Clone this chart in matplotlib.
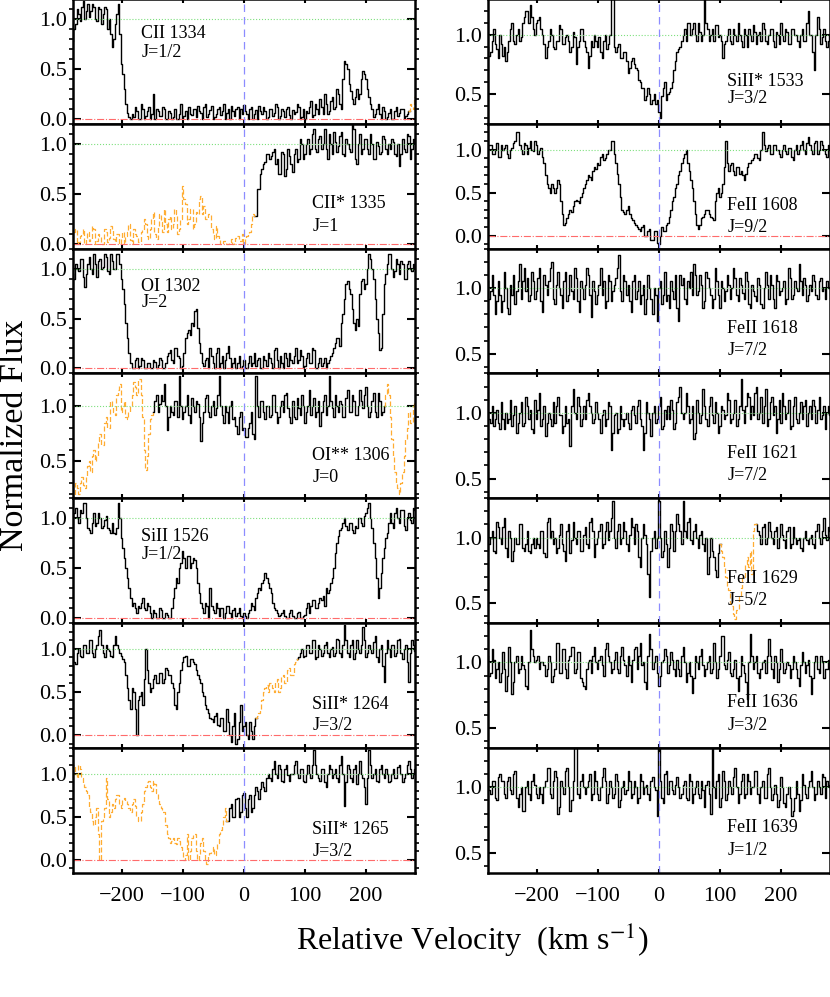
import numpy as np
import matplotlib.pyplot as plt
from matplotlib.ticker import MultipleLocator, FormatStrFormatter

plt.rcParams['font.family'] = ['Liberation Serif', 'DejaVu Serif']
plt.rcParams['mathtext.fontset'] = 'stix'

# normalized flux, one value every 2.5 km/s from -280 to +280 (16 values = 40 km/s per row)
cii_1334 = [0.78, 0.9, 0.95, 1.1, 1.05, 0.98, 1.12, 1.18, 1.0, 1.08, 1.15, 1.02, 1.08, 1.15, 1.12, 1.0,
            0.98, 1.12, 1.1, 0.95, 1.05, 1.12, 1.1, 0.9, 1.0, 0.85, 0.72, 0.8, 0.95, 1.05, 1.15, 0.85,
            0.55, 0.45, 0.3, 0.15, 0.06, 0.02, 0.0, 0.05, 0.02, 0.12, 0.08, 0.0, 0.0, 0.15, 0.1, 0.0,
            0.03, 0.08, 0.12, 0.0, 0.05, 0.25, 0.0, 0.1, 0.08, 0.03, 0.03, 0.12, 0.1, 0.0, 0.0, 0.08,
            0.06, 0.0, 0.02, 0.1, 0.0, 0.0, 0.05, 0.15, 0.0, 0.03, 0.08, 0.0, 0.12, 0.05, 0.04, 0.1,
            0.1, 0.02, 0.13, 0.08, 0.06, 0.0, 0.12, 0.15, 0.02, 0.05, 0.09, 0.13, 0.0, 0.02, 0.05, 0.1,
            0.12, 0.04, 0.08, 0.15, 0.0, 0.06, 0.1, 0.0, 0.13, 0.08, 0.03, 0.1, 0.12, 0.0, 0.1, 0.05,
            0.14, 0.08, 0.05, 0.0, 0.1, 0.12, 0.0, 0.05, 0.09, 0.0, 0.13, 0.08, 0.05, 0.12, 0.08, 0.0,
            0.02, 0.1, 0.1, 0.03, 0.06, 0.15, 0.12, 0.0, 0.03, 0.1, 0.08, 0.02, 0.1, 0.12, 0.04, 0.0,
            0.09, 0.05, 0.07, 0.15, 0.12, 0.0, 0.02, 0.1, 0.0, 0.08, 0.06, 0.12, 0.18, 0.02, 0.04, 0.15,
            0.1, 0.05, 0.2, 0.12, 0.05, 0.25, 0.15, 0.05, 0.08, 0.18, 0.22, 0.1, 0.12, 0.3, 0.25, 0.15,
            0.1, 0.4, 0.58, 0.55, 0.5, 0.35, 0.28, 0.2, 0.15, 0.22, 0.3, 0.2, 0.25, 0.4, 0.48, 0.45,
            0.4, 0.3, 0.22, 0.15, 0.1, 0.02, 0.05, 0.1, 0.15, 0.05, 0.0, 0.12, 0.08, 0.0, 0.02, 0.06,
            0.1, 0.0, 0.0, 0.08, 0.12, 0.03, 0.06, 0.1, 0.1, 0.0, 0.03, 0.05, 0.08, 0.15, 0.12, 0.1,
            0.22]
cii_1335 = [0.05, 0.12, 0.15, 0.0, 0.02, 0.08, 0.1, 0.15, 0.0, 0.05, 0.12, 0.03, 0.05, 0.18, 0.15, 0.0,
            0.03, 0.1, 0.08, 0.0, 0.0, 0.15, 0.12, 0.02, 0.06, 0.18, 0.15, 0.05, 0.02, 0.1, 0.1, 0.0,
            0.05, 0.12, 0.0, 0.08, 0.12, 0.2, 0.04, 0.0, 0.15, 0.1, 0.08, 0.02, 0.02, 0.12, 0.14, 0.25,
            0.2, 0.08, 0.05, 0.15, 0.25, 0.32, 0.1, 0.05, 0.18, 0.3, 0.22, 0.12, 0.35, 0.2, 0.12, 0.25,
            0.28, 0.15, 0.2, 0.35, 0.3, 0.1, 0.15, 0.25, 0.58, 0.45, 0.4, 0.2, 0.25, 0.35, 0.35, 0.15,
            0.2, 0.32, 0.3, 0.45, 0.48, 0.3, 0.38, 0.25, 0.25, 0.3, 0.3, 0.15, 0.1, 0.05, 0.18, 0.08,
            0.05, 0.0, 0.0, 0.03, 0.03, 0.0, 0.0, 0.02, 0.05, 0.0, 0.02, 0.06, 0.08, 0.03, 0.03, 0.1,
            0.0, 0.05, 0.08, 0.1, 0.12, 0.2, 0.3, 0.28, 0.28, 0.55, 0.55, 0.7, 0.75, 0.8, 0.82, 0.9,
            0.9, 0.85, 0.88, 0.92, 0.95, 0.8, 0.85, 0.7, 0.7, 0.92, 0.9, 0.68, 0.75, 0.95, 0.88, 0.8,
            0.72, 0.9, 0.95, 0.82, 0.85, 1.05, 1.0, 0.85, 0.9, 1.0, 1.05, 0.9, 0.95, 1.1, 1.15, 0.95,
            0.92, 1.05, 1.08, 0.95, 1.0, 1.15, 0.95, 0.85, 1.1, 1.0, 0.9, 1.12, 1.02, 0.92, 0.98, 1.08,
            1.12, 0.9, 0.88, 1.05, 1.0, 0.95, 0.92, 1.2, 1.15, 0.85, 0.8, 1.0, 1.1, 0.9, 0.95, 1.05,
            1.05, 0.95, 0.9, 1.1, 1.0, 0.85, 0.85, 1.02, 0.98, 0.9, 0.92, 1.08, 1.05, 0.95, 0.9, 1.0,
            0.95, 1.05, 1.02, 0.9, 0.88, 1.0, 0.78, 0.9, 1.05, 0.95, 0.92, 1.1, 1.08, 0.85, 0.95, 1.05,
            1.02]
oi_1302 = [0.95, 0.9, 1.05, 1.0, 0.98, 1.1, 1.1, 0.92, 0.82, 0.95, 1.05, 1.12, 1.0, 0.95, 1.15, 1.05,
           0.92, 1.08, 1.1, 1.0, 1.02, 1.15, 1.12, 0.98, 0.95, 1.15, 1.08, 1.0, 1.0, 1.15, 1.15, 1.05,
           0.9, 0.8, 0.65, 0.45, 0.3, 0.15, 0.05, 0.0, 0.0, 0.08, 0.1, 0.0, 0.02, 0.1, 0.08, 0.0,
           0.0, 0.05, 0.05, 0.0, 0.0, 0.08, 0.06, 0.0, 0.03, 0.1, 0.08, 0.0, 0.0, 0.05, 0.12, 0.15,
           0.18, 0.08, 0.05, 0.2, 0.2, 0.12, 0.1, 0.0, 0.02, 0.15, 0.3, 0.35, 0.38, 0.33, 0.45, 0.42,
           0.58, 0.6, 0.4, 0.25, 0.15, 0.05, 0.02, 0.08, 0.1, 0.0, 0.2, 0.12, 0.05, 0.0, 0.15, 0.2,
           0.0, 0.05, 0.12, 0.0, 0.08, 0.15, 0.22, 0.1, 0.0, 0.05, 0.1, 0.0, 0.05, 0.12, 0.0, 0.02,
           0.08, 0.0, 0.0, 0.05, 0.12, 0.02, 0.05, 0.15, 0.02, 0.08, 0.1, 0.0, 0.0, 0.12, 0.08, 0.02,
           0.15, 0.1, 0.05, 0.0, 0.18, 0.2, 0.08, 0.0, 0.12, 0.05, 0.0, 0.15, 0.1, 0.02, 0.15, 0.08,
           0.05, 0.12, 0.2, 0.05, 0.08, 0.18, 0.12, 0.0, 0.02, 0.1, 0.15, 0.05, 0.05, 0.2, 0.18, 0.0,
           0.0, 0.05, 0.1, 0.02, 0.05, 0.1, 0.0, 0.05, 0.08, 0.12, 0.15, 0.2, 0.25, 0.3, 0.3, 0.22,
           0.45, 0.55, 0.7, 0.85, 0.88, 0.8, 0.75, 0.6, 0.45, 0.38, 0.5, 0.42, 0.75, 0.88, 0.9, 0.8,
           0.85, 1.0, 1.15, 1.1, 1.0, 0.9, 0.7, 0.5, 0.35, 0.18, 0.2, 0.55, 0.85, 0.95, 1.05, 1.15,
           1.15, 1.0, 0.92, 0.98, 1.1, 1.05, 0.95, 1.08, 1.05, 0.9, 0.9, 1.05, 1.08, 1.0, 0.98, 1.05,
           1.02]
oi_1306 = [0.22, 0.18, 0.3, 0.25, 0.2, 0.3, 0.35, 0.28, 0.25, 0.35, 0.45, 0.5, 0.4, 0.55, 0.6, 0.5,
           0.55, 0.68, 0.75, 0.65, 0.65, 0.85, 0.9, 0.8, 0.8, 1.05, 1.0, 0.95, 0.92, 1.1, 1.15, 1.2,
           0.95, 1.0, 1.05, 0.9, 0.88, 0.95, 1.0, 1.1, 1.22, 1.18, 1.1, 1.25, 1.25, 1.1, 0.9, 0.6,
           0.42, 0.55, 0.75, 0.88, 0.92, 0.95, 1.05, 1.1, 0.95, 1.02, 1.1, 1.05, 1.2, 1.0, 0.78, 0.9,
           1.0, 0.95, 0.92, 1.05, 1.05, 0.9, 1.28, 1.0, 0.88, 0.95, 1.0, 1.1, 0.92, 0.85, 1.08, 1.0,
           0.95, 1.05, 1.02, 0.9, 0.68, 0.85, 0.95, 1.08, 1.1, 0.95, 0.9, 1.0, 1.05, 0.92, 0.98, 1.1,
           1.28, 1.0, 0.92, 0.85, 1.0, 0.95, 0.85, 1.0, 1.05, 0.88, 0.9, 0.82, 0.75, 0.9, 0.95, 0.78,
           0.8, 0.72, 0.72, 0.8, 0.85, 0.95, 0.75, 0.7, 1.28, 1.0, 0.9, 1.05, 1.05, 0.95, 0.88, 1.0,
           1.0, 0.9, 0.92, 1.1, 1.1, 0.95, 0.85, 0.9, 1.0, 1.05, 0.95, 1.1, 1.12, 0.98, 0.9, 0.85,
           1.05, 0.9, 0.88, 1.08, 0.98, 0.92, 1.1, 1.0, 0.85, 0.95, 1.0, 1.15, 0.92, 1.0, 1.08, 0.9,
           0.95, 1.05, 0.82, 0.95, 1.05, 1.1, 0.92, 1.0, 1.28, 1.05, 0.98, 0.9, 1.1, 1.0, 0.95, 1.05,
           1.02, 0.9, 0.9, 1.08, 1.15, 0.95, 0.95, 1.1, 1.05, 0.92, 0.92, 1.0, 1.15, 1.05, 0.98, 1.1,
           1.18, 1.0, 0.9, 0.95, 1.05, 1.12, 0.95, 0.9, 1.12, 1.05, 0.92, 0.95, 1.0, 1.1, 1.2, 1.1,
           0.9, 0.7, 0.55, 0.4, 0.3, 0.25, 0.2, 0.3, 0.4, 0.55, 0.7, 0.8, 0.95, 0.85, 0.85, 1.0,
           1.05]
sii_1526 = [1.0, 1.05, 1.1, 1.0, 0.95, 1.08, 1.05, 1.15, 1.15, 1.0, 0.9, 0.88, 0.85, 0.95, 1.05, 0.92,
            0.95, 1.05, 1.0, 0.9, 0.92, 0.98, 1.02, 0.9, 0.88, 0.85, 0.95, 0.85, 0.84, 0.9, 1.15, 1.0,
            0.8, 0.7, 0.6, 0.5, 0.4, 0.3, 0.2, 0.12, 0.15, 0.1, 0.05, 0.12, 0.1, 0.15, 0.2, 0.1,
            0.08, 0.15, 0.12, 0.05, 0.0, 0.08, 0.05, 0.0, 0.0, 0.1, 0.08, 0.0, 0.0, 0.05, 0.03, 0.0,
            0.0, 0.1, 0.2, 0.3, 0.4, 0.35, 0.5, 0.55, 0.67, 0.6, 0.5, 0.62, 0.62, 0.5, 0.55, 0.6,
            0.58, 0.5, 0.35, 0.25, 0.15, 0.1, 0.05, 0.15, 0.12, 0.0, 0.3, 0.12, 0.08, 0.05, 0.15, 0.1,
            0.02, 0.1, 0.1, 0.0, 0.05, 0.12, 0.12, 0.05, 0.0, 0.08, 0.1, 0.02, 0.05, 0.1, 0.02, 0.0,
            0.05, 0.02, 0.0, 0.05, 0.08, 0.15, 0.12, 0.08, 0.2, 0.25, 0.3, 0.28, 0.35, 0.38, 0.45, 0.4,
            0.35, 0.3, 0.25, 0.15, 0.1, 0.08, 0.05, 0.02, 0.03, 0.05, 0.08, 0.02, 0.0, 0.0, 0.05, 0.08,
            0.02, 0.0, 0.0, 0.05, 0.06, 0.0, 0.0, 0.02, 0.03, 0.1, 0.15, 0.05, 0.12, 0.18, 0.18, 0.1,
            0.1, 0.15, 0.2, 0.18, 0.22, 0.12, 0.3, 0.25, 0.28, 0.35, 0.4, 0.5, 0.65, 0.75, 0.82, 0.88,
            0.9, 0.95, 1.0, 0.92, 0.88, 0.95, 0.95, 0.88, 0.85, 0.92, 0.9, 1.0, 1.0, 0.95, 0.92, 1.02,
            1.05, 1.1, 1.15, 1.0, 0.9, 0.75, 0.6, 0.4, 0.2, 0.3, 0.45, 0.6, 0.7, 0.8, 0.85, 0.95,
            1.05, 0.95, 0.9, 1.05, 1.1, 1.0, 0.95, 1.08, 1.08, 0.92, 0.88, 1.0, 1.05, 0.98, 0.95, 1.1,
            1.08]
sii_1264 = [0.95, 0.85, 0.82, 0.95, 1.0, 0.92, 0.9, 1.05, 1.05, 0.95, 0.95, 1.1, 1.1, 0.95, 0.9, 1.0,
            1.05, 1.15, 1.22, 1.05, 0.95, 0.9, 1.05, 1.0, 0.98, 0.92, 0.9, 1.05, 1.15, 1.05, 1.0, 0.95,
            0.92, 0.88, 0.85, 0.7, 0.55, 0.4, 0.3, 0.55, 0.5, 0.3, 0.0, 0.4, 0.45, 0.5, 0.35, 0.65,
            1.0, 0.75, 0.6, 0.5, 0.55, 0.65, 0.7, 0.6, 0.6, 0.72, 0.72, 0.6, 0.65, 0.78, 0.75, 0.7,
            0.7, 0.6, 0.55, 0.35, 0.3, 0.5, 0.6, 0.75, 0.85, 0.9, 0.92, 0.8, 0.8, 0.88, 0.88, 0.85,
            0.82, 0.75, 0.7, 0.65, 0.6, 0.5, 0.45, 0.35, 0.3, 0.25, 0.2, 0.18, 0.15, 0.22, 0.25, 0.12,
            0.1, 0.2, 0.2, 0.05, 0.05, 0.3, 0.15, 0.0, -0.08, 0.1, 0.25, -0.1, -0.05, 0.15, 0.35, 0.05,
            0.1, 0.15, 0.0, -0.05, 0.15, 0.05, -0.05, 0.1, 0.2, 0.22, 0.25, 0.3, 0.4, 0.5, 0.55, 0.58,
            0.5, 0.6, 0.6, 0.55, 0.5, 0.62, 0.65, 0.5, 0.55, 0.68, 0.7, 0.6, 0.6, 0.75, 0.78, 0.7,
            0.7, 0.82, 0.85, 0.88, 0.9, 0.95, 1.0, 0.9, 0.92, 1.05, 1.05, 0.95, 0.95, 1.1, 1.1, 0.88,
            0.9, 1.05, 1.0, 0.92, 0.95, 1.05, 1.08, 0.95, 0.9, 1.0, 1.02, 0.92, 0.95, 1.12, 1.1, 0.95,
            0.9, 1.05, 1.28, 1.1, 0.95, 0.9, 1.05, 1.1, 0.88, 0.95, 1.1, 1.0, 0.95, 1.05, 1.25, 1.1,
            0.9, 0.95, 1.05, 1.0, 0.95, 1.08, 1.15, 0.9, 0.85, 1.0, 1.05, 0.8, 0.62, 0.95, 1.1, 1.0,
            0.9, 1.05, 1.05, 0.92, 0.95, 1.1, 1.12, 0.95, 0.88, 1.0, 1.05, 0.85, 0.62, 0.95, 1.1, 1.05,
            0.98]
sii_1265 = [1.05, 1.1, 1.0, 0.95, 1.1, 1.05, 0.95, 0.88, 0.85, 0.8, 0.75, 0.6, 0.55, 0.45, 0.4, 0.5,
            0.6, 0.3, 0.0, 0.45, 0.5, 0.6, 0.95, 0.7, 0.5, 0.55, 0.65, 0.6, 0.7, 0.75, 0.75, 0.65,
            0.6, 0.7, 0.72, 0.68, 0.65, 0.6, 0.55, 0.65, 0.7, 0.62, 0.5, 0.45, 0.45, 0.55, 0.65, 0.8,
            0.85, 0.9, 0.92, 0.85, 0.8, 0.92, 0.88, 0.78, 0.7, 0.65, 0.6, 0.55, 0.55, 0.4, 0.3, 0.25,
            0.2, 0.22, 0.25, 0.2, 0.18, 0.25, 0.22, 0.15, 0.1, 0.0, 0.05, 0.3, 0.0, 0.1, 0.25, 0.3,
            0.3, 0.1, 0.0, 0.05, 0.2, 0.25, 0.1, 0.0, -0.05, 0.05, 0.08, 0.1, 0.15, 0.05, 0.1, 0.2,
            0.3, 0.35, 0.4, 0.5, 0.6, 0.45, 0.45, 0.6, 0.65, 0.5, 0.5, 0.7, 0.72, 0.5, 0.55, 0.75,
            0.78, 0.6, 0.5, 0.7, 0.75, 0.55, 0.6, 0.75, 0.85, 0.8, 0.7, 0.82, 0.9, 0.85, 0.8, 0.95,
            1.0, 0.95, 0.92, 1.05, 1.15, 1.0, 0.95, 1.1, 1.05, 0.92, 0.9, 1.05, 1.1, 0.98, 0.92, 1.0,
            1.0, 1.1, 1.15, 1.0, 0.95, 1.05, 1.05, 0.92, 0.9, 1.0, 1.1, 1.0, 0.95, 1.1, 1.28, 1.1,
            1.0, 0.95, 0.92, 1.05, 1.05, 0.9, 0.85, 1.0, 1.1, 1.05, 0.95, 1.0, 1.05, 0.95, 0.9, 1.1,
            1.2, 1.0, 0.62, 0.9, 1.1, 1.05, 0.95, 0.9, 1.05, 1.1, 0.88, 1.0, 1.15, 1.0, 0.95, 0.85,
            0.65, 0.95, 1.28, 1.1, 0.95, 1.0, 1.05, 0.92, 0.9, 1.05, 1.1, 1.0, 0.95, 1.05, 1.0, 0.9,
            0.92, 1.0, 1.05, 0.95, 0.95, 1.08, 1.1, 1.0, 0.9, 0.95, 1.0, 1.1, 1.15, 1.05, 0.95, 1.0,
            1.05]
sii_1533 = [0.9, 0.82, 0.85, 0.95, 1.05, 0.92, 0.88, 0.8, 1.0, 0.92, 0.82, 0.9, 0.78, 0.85, 0.95, 1.05,
            1.1, 0.95, 0.92, 1.0, 1.05, 0.95, 0.98, 1.1, 1.15, 1.2, 1.2, 1.1, 1.25, 1.15, 1.05, 1.0,
            1.1, 1.12, 1.15, 1.05, 1.0, 0.92, 0.8, 0.9, 0.95, 1.05, 1.0, 0.9, 0.88, 0.95, 0.95, 1.08,
            1.05, 0.92, 0.92, 0.98, 1.0, 0.95, 0.85, 0.9, 1.02, 0.98, 0.75, 0.9, 0.95, 1.05, 1.05, 0.95,
            0.9, 0.85, 0.72, 0.82, 0.95, 0.9, 1.0, 0.95, 0.9, 0.98, 0.85, 0.8, 0.95, 1.0, 0.88, 0.92,
            1.0, 1.3, 1.3, 0.9, 0.85, 0.9, 0.92, 0.8, 0.8, 0.85, 0.85, 0.78, 0.68, 0.72, 0.78, 0.8,
            0.75, 0.72, 0.7, 0.62, 0.6, 0.55, 0.55, 0.45, 0.48, 0.55, 0.5, 0.42, 0.45, 0.5, 0.42, 0.45,
            0.35, 0.3, 0.48, 0.55, 0.6, 0.45, 0.5, 0.52, 0.55, 0.6, 0.7, 0.78, 0.85, 0.88, 0.9, 0.95,
            1.0, 1.05, 0.95, 1.1, 1.1, 1.0, 1.05, 1.1, 1.0, 0.95, 1.1, 1.02, 0.95, 1.0, 1.3, 1.1,
            1.05, 0.95, 1.0, 1.05, 0.95, 1.08, 1.08, 0.98, 1.0, 0.95, 0.8, 0.92, 0.95, 1.0, 1.05, 0.95,
            0.92, 1.05, 1.0, 0.95, 1.1, 1.0, 0.95, 0.9, 1.05, 1.0, 0.9, 1.05, 1.0, 0.95, 1.08, 1.02,
            0.92, 1.0, 1.02, 0.95, 1.1, 1.05, 0.95, 0.92, 1.0, 1.05, 1.05, 0.95, 0.9, 1.02, 1.0, 0.92,
            1.1, 1.0, 0.95, 1.05, 1.02, 0.92, 0.92, 1.05, 1.05, 1.0, 1.0, 0.95, 0.9, 1.0, 1.05, 0.95,
            0.95, 1.1, 1.2, 1.0, 1.0, 0.85, 0.7, 1.0, 1.15, 1.05, 0.92, 0.98, 1.05, 0.95, 0.9, 0.95,
            1.0]
feii_1608 = [1.0, 1.05, 1.05, 0.95, 0.95, 1.0, 1.08, 0.92, 0.92, 1.05, 1.0, 1.02, 1.05, 0.95, 0.9, 1.0,
             1.02, 1.08, 1.1, 1.2, 1.2, 1.05, 1.0, 0.95, 1.08, 1.05, 0.95, 1.02, 1.1, 1.0, 0.98, 1.1,
             1.05, 0.95, 1.0, 1.02, 0.92, 0.85, 0.7, 0.6, 0.55, 0.5, 0.6, 0.55, 0.5, 0.55, 0.65, 0.6,
             0.4, 0.25, 0.12, 0.15, 0.2, 0.25, 0.3, 0.28, 0.35, 0.4, 0.42, 0.4, 0.38, 0.45, 0.5, 0.55,
             0.6, 0.65, 0.7, 0.68, 0.65, 0.75, 0.8, 0.78, 0.85, 0.82, 0.92, 0.95, 0.88, 0.9, 0.95, 1.0,
             1.0, 1.1, 1.1, 0.95, 0.85, 0.72, 0.6, 0.45, 0.3, 0.28, 0.25, 0.3, 0.35, 0.25, 0.2, 0.18,
             0.15, 0.12, 0.1, 0.08, 0.05, 0.1, 0.12, 0.0, 0.0, 0.05, 0.08, -0.05, -0.05, 0.05, 0.05, -0.08,
             -0.1, 0.0, 0.1, 0.05, 0.05, 0.12, 0.15, 0.22, 0.3, 0.4, 0.45, 0.55, 0.6, 0.7, 0.75, 0.85,
             0.9, 0.95, 1.0, 0.85, 0.75, 0.65, 0.55, 0.4, 0.25, 0.12, 0.08, 0.12, 0.2, 0.22, 0.25, 0.3,
             0.3, 0.25, 0.22, 0.2, 0.18, 0.4, 0.5, 0.55, 0.45, 0.5, 0.6, 0.8, 1.1, 0.85, 0.75, 0.82,
             0.85, 0.75, 0.7, 0.8, 0.8, 0.72, 0.75, 0.7, 0.65, 0.72, 0.8, 0.85, 0.85, 0.88, 0.9, 0.95,
             0.95, 0.9, 0.88, 1.0, 1.2, 1.05, 0.98, 1.02, 1.05, 0.95, 0.95, 1.05, 1.05, 1.0, 1.0, 0.95,
             0.92, 1.0, 1.05, 0.98, 0.95, 1.02, 1.02, 0.92, 0.88, 1.0, 1.05, 0.95, 1.0, 1.05, 1.1, 1.0,
             0.95, 1.08, 1.15, 1.05, 1.0, 0.95, 1.08, 1.1, 0.95, 1.0, 1.1, 1.05, 1.0, 0.95, 0.92, 1.05,
             1.0]
feii_1618 = [1.05, 0.92, 0.98, 1.1, 0.95, 0.8, 0.9, 1.05, 0.95, 0.82, 0.9, 1.12, 1.0, 0.85, 0.8, 1.02,
             0.95, 1.1, 0.88, 0.98, 1.05, 1.18, 0.92, 1.05, 1.15, 0.98, 1.08, 0.9, 0.95, 1.12, 1.05, 0.92,
             0.98, 1.08, 1.15, 0.9, 0.82, 1.1, 1.02, 0.95, 1.05, 1.15, 1.2, 0.92, 0.88, 1.02, 1.12, 1.0,
             0.95, 0.85, 1.05, 1.12, 0.9, 0.95, 1.1, 0.98, 0.92, 1.15, 1.08, 0.9, 0.82, 1.05, 1.0, 0.92,
             1.02, 1.15, 1.1, 0.95, 0.78, 1.05, 0.98, 0.88, 0.95, 1.02, 1.15, 0.95, 1.05, 0.85, 0.9, 1.1,
             1.05, 0.9, 0.98, 1.02, 1.08, 1.15, 1.25, 0.98, 0.9, 1.1, 1.05, 0.95, 1.02, 0.9, 0.82, 1.05,
             1.1, 0.92, 0.98, 1.05, 0.88, 0.95, 1.02, 0.8, 0.92, 1.1, 1.0, 0.92, 0.8, 1.0, 0.95, 0.75,
             1.0, 1.05, 0.88, 0.95, 1.12, 0.9, 0.95, 0.85, 1.05, 0.98, 0.92, 1.1, 0.85, 0.75, 1.1, 1.02,
             1.08, 0.92, 0.88, 1.05, 1.0, 1.12, 0.95, 1.18, 1.1, 0.95, 0.98, 1.1, 1.02, 0.85, 0.9, 1.12,
             1.08, 1.0, 0.95, 0.85, 0.92, 1.15, 1.05, 0.95, 0.85, 1.05, 1.0, 0.9, 0.98, 1.1, 1.02, 0.92,
             1.0, 1.15, 1.08, 0.95, 0.9, 1.08, 1.02, 0.96, 0.92, 1.12, 1.05, 0.88, 0.85, 1.02, 0.98, 0.94,
             0.9, 1.08, 1.02, 0.88, 0.85, 1.0, 1.12, 1.02, 0.92, 1.1, 1.02, 0.92, 0.85, 1.1, 1.05, 0.95,
             0.98, 1.0, 1.05, 0.88, 0.92, 1.15, 1.08, 0.92, 0.95, 1.05, 1.0, 0.98, 1.18, 1.05, 0.95, 1.08,
             1.02, 0.9, 0.95, 1.02, 0.98, 1.1, 1.05, 0.95, 0.92, 1.05, 1.08, 0.98, 1.0, 0.92, 1.05, 1.0,
             1.0]
feii_1621 = [1.0, 0.95, 0.92, 1.05, 0.9, 0.95, 1.02, 0.92, 0.88, 1.08, 0.95, 0.88, 1.0, 0.92, 0.95, 1.1,
             0.9, 0.98, 1.05, 0.85, 0.92, 1.0, 1.08, 0.9, 0.92, 1.12, 1.05, 0.95, 1.02, 0.88, 0.85, 1.1,
             0.95, 1.02, 1.15, 0.9, 0.95, 1.05, 0.82, 0.92, 1.0, 0.95, 0.9, 1.08, 0.92, 1.05, 1.12, 0.98,
             0.98, 0.85, 0.9, 1.05, 0.92, 0.95, 0.75, 1.05, 1.18, 1.0, 0.95, 1.12, 1.05, 0.9, 0.95, 1.05,
             0.95, 1.1, 1.15, 1.05, 1.0, 0.92, 0.95, 1.08, 1.0, 0.95, 0.85, 0.98, 1.02, 0.9, 0.95, 1.08,
             1.05, 0.72, 0.85, 0.98, 1.0, 0.85, 0.88, 1.05, 0.95, 0.9, 0.95, 1.0, 0.92, 0.88, 1.02, 1.05,
             0.98, 0.92, 1.05, 1.1, 0.95, 0.9, 0.72, 0.85, 1.08, 1.0, 0.95, 0.82, 1.0, 1.05, 0.92, 0.95,
             1.05, 1.12, 0.88, 0.9, 1.02, 0.95, 1.05, 0.95, 1.1, 1.02, 0.88, 0.92, 1.08, 1.12, 1.2, 1.0,
             0.95, 1.0, 1.15, 1.05, 0.92, 0.95, 1.05, 0.8, 0.85, 1.1, 1.0, 0.92, 0.98, 1.18, 1.05, 0.95,
             0.9, 1.05, 1.12, 0.98, 0.92, 1.08, 1.0, 0.85, 0.9, 1.05, 1.02, 0.95, 0.98, 1.15, 1.1, 0.92,
             0.95, 1.0, 1.1, 0.9, 0.95, 1.05, 1.26, 1.02, 0.92, 1.05, 1.15, 1.12, 0.95, 1.05, 0.98, 1.15,
             1.2, 0.95, 1.0, 1.12, 0.92, 1.05, 1.18, 0.9, 0.95, 1.08, 1.12, 0.98, 1.05, 0.85, 0.95, 1.1,
             0.92, 1.15, 1.05, 0.95, 1.0, 1.1, 0.88, 0.9, 1.05, 1.12, 0.95, 0.92, 1.0, 1.08, 0.95, 1.05,
             1.1, 0.9, 1.0, 1.05, 0.95, 1.1, 1.05, 0.92, 1.02, 1.12, 0.95, 0.98, 1.05, 0.88, 1.0, 1.05,
             0.98]
feii_1629 = [1.1, 0.95, 1.0, 1.05, 0.9, 0.88, 1.12, 1.08, 1.0, 0.95, 1.08, 1.15, 0.92, 0.85, 1.05, 1.0,
             0.82, 0.9, 1.0, 0.95, 0.95, 1.1, 1.1, 0.92, 0.9, 0.95, 1.05, 0.9, 0.88, 0.95, 1.0, 0.92,
             1.0, 0.95, 0.92, 1.05, 1.05, 0.88, 0.85, 1.12, 1.15, 1.0, 1.05, 0.95, 1.0, 0.88, 0.92, 1.02,
             1.1, 0.95, 0.9, 0.82, 1.05, 1.1, 0.88, 0.98, 1.12, 1.0, 0.95, 1.05, 1.05, 0.9, 0.9, 1.02,
             1.08, 0.95, 0.92, 1.12, 1.15, 1.05, 0.85, 0.95, 1.0, 1.05, 1.1, 0.92, 0.95, 1.05, 1.12, 0.98,
             1.05, 1.15, 1.28, 1.0, 0.92, 1.05, 1.1, 0.95, 1.0, 1.12, 1.05, 0.95, 0.9, 1.02, 1.15, 1.08,
             0.95, 1.1, 1.05, 0.85, 0.78, 1.0, 1.1, 1.02, 0.95, 0.72, 0.55, 0.9, 1.0, 1.05, 0.92, 1.0,
             1.28, 1.0, 0.85, 0.9, 1.05, 0.95, 0.78, 0.92, 1.1, 1.05, 0.9, 1.05, 1.18, 1.1, 1.05, 0.95,
             1.28, 1.05, 1.0, 1.12, 1.15, 0.98, 0.95, 1.05, 1.1, 1.0, 0.92, 1.02, 1.05, 0.95, 0.9, 1.0,
             0.72, 0.85, 1.0, 0.9, 0.85, 0.75, 0.7, 0.88, 0.95, 0.9, 0.85, 0.78, 0.7, 0.62, 0.6, 0.5,
             0.48, 0.42, 0.38, 0.45, 0.45, 0.55, 0.62, 0.7, 0.7, 0.8, 0.85, 0.78, 0.9, 0.72, 1.05, 1.1,
             1.1, 1.05, 1.02, 0.95, 1.08, 1.1, 0.95, 1.0, 1.12, 1.05, 1.0, 0.95, 1.05, 1.08, 0.92, 1.0,
             1.1, 1.02, 0.98, 0.92, 1.05, 1.08, 0.92, 0.95, 1.08, 1.0, 0.95, 0.98, 1.0, 0.92, 0.9, 1.0,
             1.05, 0.98, 0.95, 1.0, 1.02, 0.95, 0.92, 1.05, 1.1, 1.0, 0.95, 1.05, 1.15, 1.02, 0.98, 1.08,
             1.05]
feii_1636 = [1.05, 0.9, 0.92, 1.1, 1.02, 0.88, 0.95, 1.0, 0.85, 0.92, 1.08, 0.95, 0.78, 0.9, 1.12, 1.0,
             0.76, 0.85, 1.0, 1.05, 0.92, 0.95, 1.05, 0.98, 0.95, 0.82, 0.8, 1.0, 1.25, 1.1, 1.05, 1.0,
             1.02, 1.05, 0.95, 1.0, 1.0, 0.98, 0.9, 0.95, 1.05, 1.0, 0.85, 0.9, 0.95, 1.15, 1.15, 0.92,
             0.92, 1.1, 1.1, 0.95, 0.88, 1.02, 1.05, 1.12, 1.12, 0.92, 0.95, 1.08, 1.08, 0.88, 0.85, 0.82,
             0.8, 0.95, 1.0, 1.02, 0.92, 1.05, 1.12, 1.0, 0.95, 1.02, 1.05, 0.98, 0.9, 1.1, 1.15, 1.05,
             1.0, 0.92, 0.95, 1.02, 1.08, 0.95, 0.92, 1.05, 1.12, 1.02, 0.98, 0.9, 1.05, 0.98, 0.85, 1.02,
             1.1, 1.12, 0.95, 1.05, 1.15, 0.98, 1.0, 0.85, 0.8, 1.05, 1.22, 1.1, 0.95, 1.0, 1.05, 0.92,
             0.82, 0.9, 1.0, 1.02, 1.1, 1.05, 0.92, 0.98, 1.08, 1.02, 0.95, 0.9, 1.02, 0.95, 0.9, 1.05,
             1.12, 1.0, 0.85, 0.92, 1.0, 0.9, 0.77, 0.88, 1.05, 1.0, 0.95, 1.05, 1.1, 0.98, 0.9, 0.95,
             1.0, 1.05, 0.92, 0.95, 1.15, 1.0, 0.88, 0.95, 1.05, 1.2, 1.2, 0.98, 0.95, 1.02, 1.08, 0.92,
             0.9, 0.95, 1.02, 0.88, 0.78, 0.9, 1.05, 0.98, 0.92, 0.85, 0.72, 1.0, 1.22, 1.05, 0.95, 1.0,
             1.05, 0.92, 0.88, 0.95, 1.0, 1.02, 0.92, 1.05, 1.18, 1.05, 0.95, 0.88, 1.05, 1.0, 0.85, 0.95,
             1.1, 1.0, 0.92, 0.95, 1.0, 0.98, 0.88, 0.95, 1.05, 1.0, 0.95, 0.88, 0.82, 0.98, 1.08, 1.0,
             0.92, 0.98, 1.02, 0.9, 0.76, 0.88, 1.0, 1.05, 0.95, 0.92, 1.05, 1.0, 0.88, 0.95, 0.95, 1.02,
             0.95]
feii_1639 = [1.0, 0.98, 0.95, 1.05, 1.05, 0.92, 0.9, 1.08, 1.1, 1.05, 1.05, 0.95, 0.92, 1.05, 1.08, 0.98,
             0.95, 1.1, 1.12, 0.92, 0.85, 0.95, 1.0, 0.82, 0.82, 1.0, 1.05, 0.95, 0.9, 1.05, 1.1, 1.02,
             0.95, 0.92, 1.0, 0.95, 0.88, 1.0, 1.05, 1.15, 1.15, 0.95, 0.92, 1.05, 1.12, 1.08, 0.8, 0.85,
             1.05, 1.0, 0.95, 1.12, 1.15, 1.0, 0.82, 0.9, 1.05, 1.3, 1.3, 0.95, 0.92, 1.05, 1.1, 1.0,
             0.95, 1.0, 1.05, 1.1, 0.9, 0.95, 1.12, 1.05, 0.95, 0.9, 1.0, 1.08, 1.15, 1.05, 0.88, 0.95,
             1.05, 1.0, 0.92, 0.95, 1.1, 1.05, 0.85, 0.9, 1.0, 1.05, 0.95, 0.98, 1.12, 1.05, 0.92, 0.95,
             1.05, 1.0, 0.88, 0.92, 1.1, 1.05, 0.95, 1.0, 1.02, 0.95, 0.9, 1.05, 1.08, 1.0, 0.98, 0.78,
             1.3, 1.05, 0.92, 0.88, 1.1, 1.12, 0.95, 1.05, 1.05, 0.98, 0.95, 1.02, 1.08, 1.0, 0.92, 0.95,
             1.02, 1.05, 0.92, 0.9, 1.1, 1.05, 0.88, 0.95, 1.0, 1.05, 0.95, 0.92, 1.05, 0.98, 0.85, 1.02,
             1.05, 0.95, 0.8, 1.3, 1.0, 0.92, 1.05, 1.1, 0.85, 0.92, 1.12, 1.05, 0.9, 0.95, 1.05, 1.0,
             0.95, 1.08, 1.15, 1.0, 0.88, 0.95, 1.05, 1.1, 0.92, 0.95, 1.1, 1.05, 0.95, 1.0, 1.0, 1.12,
             1.12, 0.95, 0.88, 1.0, 1.05, 0.92, 0.92, 1.1, 1.15, 1.0, 0.9, 0.95, 1.02, 0.95, 0.85, 0.9,
             1.08, 1.0, 0.88, 0.85, 0.95, 1.0, 0.92, 0.78, 0.82, 0.92, 1.05, 0.95, 0.82, 0.9, 1.1, 1.02,
             0.95, 0.92, 1.0, 1.05, 1.12, 1.0, 0.9, 0.95, 1.05, 1.0, 0.95, 1.1, 1.08, 0.92, 1.05, 1.02,
             1.0]

# panel names, J labels, blended velocity ranges and y limits
left_ions = ['CII 1334', 'CII* 1335', 'OI 1302', 'OI** 1306', 'SiII 1526', 'SiII* 1264', 'SiII* 1265']
left_j = ['J=1/2', 'J=1', 'J=2', 'J=0', 'J=1/2', 'J=3/2', 'J=3/2']
left_flux = [cii_1334, cii_1335, oi_1302, oi_1306, sii_1526, sii_1264, sii_1265]
left_blend = [[(272, 280)], [(-280, 17)], [], [(-280, -150), (232, 280)], [], [(22, 87)], [(-280, -28)]]
left_ylim = [(-0.05, 1.2), (-0.05, 1.2), (-0.05, 1.2), (0.16, 1.3), (-0.05, 1.2), (-0.15, 1.3), (-0.15, 1.3)]

right_ions = ['SiII* 1533', 'FeII 1608', 'FeII 1618', 'FeII 1621', 'FeII 1629', 'FeII 1636', 'FeII 1639']
right_j = ['J=3/2', 'J=9/2', 'J=7/2', 'J=7/2', 'J=5/2', 'J=3/2', 'J=1/2']
right_flux = [sii_1533, feii_1608, feii_1618, feii_1621, feii_1629, feii_1636, feii_1639]
right_blend = [[], [], [], [], [(101, 158)], [], []]
right_ylim = [(0.25, 1.3), (-0.15, 1.3), (0.35, 1.3), (0.35, 1.3), (0.35, 1.3), (0.35, 1.3), (0.35, 1.3)]

fig = plt.figure(figsize=(8.3, 9.97), dpi=100)

h = 0.12518
top = 1.001


def draw_panel(ax, flux, blend, ylim, ion, jlab, label_x, label_y):
    flux = np.array(flux)
    vel = np.linspace(-280, 280, len(flux))
    bl = np.zeros(len(vel), bool)
    for lo, hi in blend:
        bl |= (vel >= lo) & (vel <= hi)
    edge = np.convolve(bl, [1, 1, 1], 'same') > 0
    ax.plot(vel, np.where(bl, np.nan, flux), color='black', lw=1.0, drawstyle='steps-mid')
    ax.plot(vel, np.where(edge, flux, np.nan), color='#ffad33', lw=0.9, ls=(0, (4, 2)),
            drawstyle='steps-mid')
    ax.axhline(1.0, color='#7ee07e', lw=0.8, ls=':')
    ax.axhline(0.0, color='#ff6b6b', lw=0.8, ls='-.')
    ax.axvline(0.0, color='#8c8cff', lw=0.9, ls=(0, (6, 4)))
    ax.set_xlim(-280, 280)
    ax.set_ylim(*ylim)
    ax.xaxis.set_major_locator(MultipleLocator(100))
    ax.yaxis.set_major_locator(MultipleLocator(0.5))
    ax.yaxis.set_minor_locator(MultipleLocator(0.1))
    ax.yaxis.set_major_formatter(FormatStrFormatter('%.1f'))
    ax.tick_params(direction='in', top=True, right=True, labelsize=16, width=1.5)
    ax.tick_params(axis='y', which='major', length=6, pad=4)
    ax.tick_params(axis='y', which='minor', length=3, width=1.2, right=True)
    ax.tick_params(axis='x', which='major', length=3, pad=10)
    for s in ax.spines.values():
        s.set_linewidth(1.8)
    ax.text(label_x, label_y[0], ion, transform=ax.transAxes, fontsize=13, va='center')
    ax.text(label_x, label_y[1], jlab, transform=ax.transAxes, fontsize=13, va='center')


left_lab_y = [(0.72, 0.57), (0.36, 0.18), (0.70, 0.57), (0.345, 0.17), (0.69, 0.55), (0.35, 0.18), (0.345, 0.17)]
right_lab_y = [(0.34, 0.2), (0.345, 0.17), (0.36, 0.18), (0.36, 0.18), (0.36, 0.18), (0.36, 0.18), (0.36, 0.18)]
left_lab_x = [0.20, 0.70, 0.20, 0.70, 0.20, 0.70, 0.70]

for i in range(7):
    y0 = top - (i + 1) * h
    ax = fig.add_axes([0.0876, y0, 0.4124, h])
    draw_panel(ax, left_flux[i], left_blend[i], left_ylim[i], left_ions[i], left_j[i],
               left_lab_x[i], left_lab_y[i])
    if i < 6:
        ax.set_xticklabels([])

    ax = fig.add_axes([0.5876, y0, 0.4124, h])
    draw_panel(ax, right_flux[i], right_blend[i], right_ylim[i], right_ions[i], right_j[i],
               0.70, right_lab_y[i])
    if i < 6:
        ax.set_xticklabels([])

fig.text(0.018, 1 - 435 / 997, 'Normalized Flux', rotation=90, fontsize=24.5, ha='center', va='center')
fig.text(472 / 830, 1 - 940 / 997, r'Relative Velocity  (km s$^{-1}$)', fontsize=23, ha='center', va='center')

plt.savefig('out.png', dpi=100)
